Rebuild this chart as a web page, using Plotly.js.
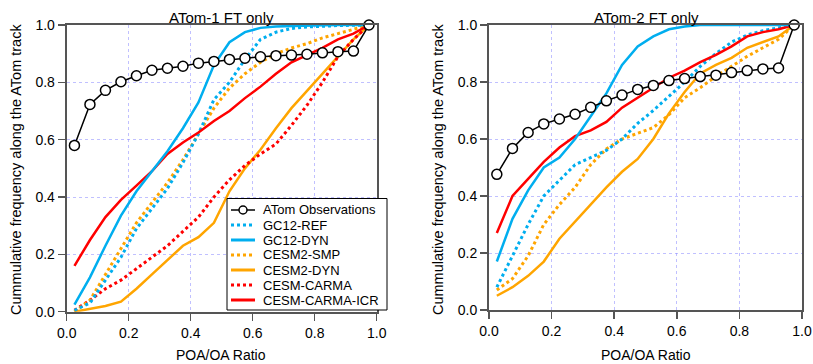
<!DOCTYPE html>
<html>
<head>
<meta charset="utf-8">
<script src="https://cdn.plot.ly/plotly-3.0.1.min.js"></script>
<style>html,body{margin:0;padding:0;background:#fff;}#chart{width:813px;height:364px;}</style>
</head>
<body>
<div id="chart"></div>
<script>
// ---- data ----
const bins = [0.025,0.075,0.125,0.175,0.225,0.275,0.325,0.375,0.425,0.475,0.525,0.575,0.625,0.675,0.725,0.775,0.825,0.875,0.925,0.975];
const xTicks = [0,0.2,0.4,0.6,0.8,1.0];
const xTickText = ['0.0','0.2','0.4','0.6','0.8','1.0'];
const yTicks = [0,0.2,0.4,0.6,0.8,1.0];
const yTickText = ['0.0','0.2','0.4','0.6','0.8','1.0'];
const seriesNames = ['ATom Observations','GC12-REF','GC12-DYN','CESM2-SMP','CESM2-DYN','CESM-CARMA','CESM-CARMA-ICR'];
const panelTitles = ['ATom-1 FT only','ATom-2 FT only'];
const xTitle = 'POA/OA Ratio';
const yTitle = 'Cummulative frequency along the ATom track';

// ATom-1
const obs1     = [0.58,0.723,0.772,0.802,0.823,0.842,0.849,0.856,0.867,0.873,0.880,0.884,0.889,0.893,0.895,0.898,0.903,0.907,0.909,1.0];
const gcRef1   = [0.005,0.03,0.11,0.19,0.29,0.36,0.43,0.52,0.62,0.74,0.80,0.88,0.95,0.975,0.988,0.993,0.996,0.998,0.999,1.0];
const gcDyn1   = [0.025,0.12,0.23,0.335,0.42,0.49,0.56,0.64,0.73,0.86,0.94,0.975,0.99,0.995,0.997,0.998,0.999,1.0,1.0,1.0];
const cesmSmp1 = [0.0,0.04,0.13,0.22,0.31,0.38,0.45,0.53,0.62,0.71,0.78,0.83,0.87,0.90,0.92,0.935,0.955,0.97,0.985,1.0];
const cesmDyn1 = [0.0,0.01,0.02,0.035,0.08,0.13,0.18,0.23,0.26,0.31,0.42,0.50,0.565,0.64,0.71,0.77,0.83,0.89,0.95,1.0];
const carma1   = [0.005,0.04,0.08,0.11,0.15,0.19,0.23,0.28,0.33,0.40,0.46,0.51,0.55,0.585,0.65,0.72,0.80,0.89,0.95,1.0];
const carmaIcr1= [0.16,0.25,0.33,0.39,0.44,0.49,0.55,0.59,0.625,0.665,0.70,0.745,0.785,0.83,0.87,0.895,0.92,0.95,0.97,1.0];

// ATom-2
const obs2     = [0.476,0.567,0.623,0.653,0.67,0.687,0.711,0.734,0.754,0.774,0.788,0.805,0.812,0.819,0.824,0.833,0.84,0.846,0.849,1.0];
const gcRef2   = [0.08,0.19,0.30,0.40,0.455,0.51,0.535,0.56,0.60,0.655,0.70,0.75,0.80,0.855,0.90,0.94,0.965,0.98,0.99,1.0];
const gcDyn2   = [0.17,0.32,0.42,0.50,0.535,0.60,0.68,0.76,0.86,0.925,0.96,0.985,0.995,1.0,1.0,1.0,1.0,1.0,1.0,1.0];
const cesmSmp2 = [0.07,0.11,0.19,0.30,0.37,0.43,0.51,0.565,0.60,0.62,0.64,0.685,0.745,0.78,0.82,0.855,0.89,0.92,0.95,1.0];
const cesmDyn2 = [0.05,0.08,0.12,0.17,0.25,0.31,0.37,0.43,0.485,0.53,0.60,0.69,0.765,0.83,0.86,0.885,0.92,0.94,0.96,1.0];
const carmaIcr2= [0.27,0.40,0.46,0.52,0.57,0.61,0.63,0.66,0.71,0.745,0.78,0.815,0.84,0.87,0.895,0.925,0.96,0.975,0.985,1.0];

// ---- styles ----
const BLUE = '#00AEEF', ORANGE = '#FFA500', RED = '#FF0000';
const styles = {
  'GC12-REF':      {color: BLUE,   dash: 'dot',   width: 3},
  'GC12-DYN':      {color: BLUE,   dash: 'solid', width: 2.5},
  'CESM2-SMP':     {color: ORANGE, dash: 'dot',   width: 3},
  'CESM2-DYN':     {color: ORANGE, dash: 'solid', width: 2.5},
  'CESM-CARMA':    {color: RED,    dash: 'dot',   width: 3},
  'CESM-CARMA-ICR':{color: RED,    dash: 'solid', width: 2.5}
};
const FONT = 'Liberation Sans, Arial, sans-serif';
const W = 813, H = 364;
const px = v => v / W;
const py = v => 1 - v / H;

function modelTrace(name, y, xa, ya) {
  const s = styles[name];
  return {x: bins, y: y, type: 'scatter', mode: 'lines', name: name, xaxis: xa, yaxis: ya,
          line: {color: s.color, dash: s.dash, width: s.width}, showlegend: false, hoverinfo: 'skip'};
}
function obsTrace(y, xa, ya) {
  return {x: bins, y: y, type: 'scatter', mode: 'lines+markers', name: 'ATom Observations', xaxis: xa, yaxis: ya,
          line: {color: '#000', width: 1.5}, cliponaxis: false,
          marker: {symbol: 'circle', size: 10, color: '#fff', line: {color: '#000', width: 1.5}},
          showlegend: false, hoverinfo: 'skip'};
}

const data = [
  modelTrace('CESM2-DYN', cesmDyn1, 'x', 'y'),
  modelTrace('CESM-CARMA', carma1, 'x', 'y'),
  modelTrace('CESM2-SMP', cesmSmp1, 'x', 'y'),
  modelTrace('GC12-REF', gcRef1, 'x', 'y'),
  modelTrace('CESM-CARMA-ICR', carmaIcr1, 'x', 'y'),
  modelTrace('GC12-DYN', gcDyn1, 'x', 'y'),
  obsTrace(obs1, 'x', 'y'),
  modelTrace('CESM2-DYN', cesmDyn2, 'x2', 'y2'),
  modelTrace('CESM2-SMP', cesmSmp2, 'x2', 'y2'),
  modelTrace('GC12-REF', gcRef2, 'x2', 'y2'),
  modelTrace('CESM-CARMA-ICR', carmaIcr2, 'x2', 'y2'),
  modelTrace('GC12-DYN', gcDyn2, 'x2', 'y2'),
  obsTrace(obs2, 'x2', 'y2')
];

function xAxis(domain, anchor) {
  return {domain: domain, anchor: anchor, range: [0, 1], tickmode: 'array', tickvals: xTicks, ticktext: xTickText,
          ticks: 'outside', ticklen: 7, tickwidth: 1.5, tickcolor: '#555',
          showline: true, linecolor: '#555', linewidth: 2, mirror: true,
          showgrid: true, gridcolor: 'rgba(140,140,255,0.55)', griddash: 'dot', gridwidth: 1,
          zeroline: false, tickfont: {family: FONT, size: 14, color: '#000'}, fixedrange: true, automargin: false};
}
function yAxis(domain, anchor) {
  return {domain: domain, anchor: anchor, range: [0, 1], tickmode: 'array', tickvals: yTicks, ticktext: yTickText,
          ticks: 'outside', ticklen: 7, tickwidth: 1.5, tickcolor: '#555',
          showline: true, linecolor: '#555', linewidth: 2, mirror: true,
          showgrid: true, gridcolor: 'rgba(140,140,255,0.55)', griddash: 'dot', gridwidth: 1,
          zeroline: false, tickfont: {family: FONT, size: 14, color: '#000'}, fixedrange: true, automargin: false};
}

// ---- annotations (titles) ----
const annotations = [
  {text: panelTitles[0], x: px(221.5), y: py(17), xref: 'paper', yref: 'paper', xanchor: 'center', yanchor: 'middle', showarrow: false, font: {family: FONT, size: 15, color: '#000'}},
  {text: panelTitles[1], x: px(646), y: py(17), xref: 'paper', yref: 'paper', xanchor: 'center', yanchor: 'middle', showarrow: false, font: {family: FONT, size: 15, color: '#000'}},
  {text: xTitle, x: px(221.5), y: py(355), xref: 'paper', yref: 'paper', xanchor: 'center', yanchor: 'middle', showarrow: false, font: {family: FONT, size: 14, color: '#000'}},
  {text: xTitle, x: px(645.5), y: py(355), xref: 'paper', yref: 'paper', xanchor: 'center', yanchor: 'middle', showarrow: false, font: {family: FONT, size: 14, color: '#000'}},
  {text: yTitle, x: px(16), y: py(170), xref: 'paper', yref: 'paper', xanchor: 'center', yanchor: 'middle', textangle: -90, showarrow: false, font: {family: FONT, size: 14.5, color: '#000'}},
  {text: yTitle, x: px(438), y: py(170), xref: 'paper', yref: 'paper', xanchor: 'center', yanchor: 'middle', textangle: -90, showarrow: false, font: {family: FONT, size: 14.5, color: '#000'}}
];

// ---- custom legend (box + swatches + text) ----
const shapes = [
  {type: 'rect', xref: 'paper', yref: 'paper', x0: px(227), x1: px(387), y0: py(310), y1: py(198.5),
   line: {color: '#000', width: 1}, fillcolor: '#fff', layer: 'above'}
];
const legTop = 210, legStep = 15, swX0 = 231, swX1 = 255, txtX = 261;
seriesNames.forEach((name, i) => {
  const yc = legTop + i * legStep;
  if (name === 'ATom Observations') {
    shapes.push({type: 'line', xref: 'paper', yref: 'paper', x0: px(swX0), x1: px(swX1), y0: py(yc), y1: py(yc), line: {color: '#000', width: 1.5}});
    shapes.push({type: 'circle', xref: 'paper', yref: 'paper', xsizemode: 'pixel', ysizemode: 'pixel',
                 xanchor: px((swX0 + swX1) / 2), yanchor: py(yc), x0: -4, x1: 4, y0: -4, y1: 4,
                 line: {color: '#000', width: 1.5}, fillcolor: '#fff'});
  } else {
    const s = styles[name];
    shapes.push({type: 'line', xref: 'paper', yref: 'paper', x0: px(swX0), x1: px(swX1), y0: py(yc), y1: py(yc),
                 line: {color: s.color, width: 3, dash: s.dash}});
  }
  annotations.push({text: name, x: px(txtX), y: py(yc), xref: 'paper', yref: 'paper', xanchor: 'left', yanchor: 'middle',
                    showarrow: false, font: {family: FONT, size: 13, color: '#000'}});
});

const layout = {
  width: W, height: H,
  margin: {l: 0, r: 0, t: 0, b: 0, pad: 0},
  paper_bgcolor: '#fff', plot_bgcolor: '#fff',
  showlegend: false,
  font: {family: FONT, color: '#000'},
  xaxis: xAxis([px(66.7), px(376.7)], 'y'),
  yaxis: yAxis([1 - 311.7 / H, 1 - 25 / H], 'x'),
  xaxis2: xAxis([px(489), px(802)], 'y2'),
  yaxis2: yAxis([1 - 310 / H, 1 - 25 / H], 'x2'),
  annotations: annotations,
  shapes: shapes
};

Plotly.newPlot('chart', data, layout, {staticPlot: true, displayModeBar: false});
</script>
</body>
</html>
